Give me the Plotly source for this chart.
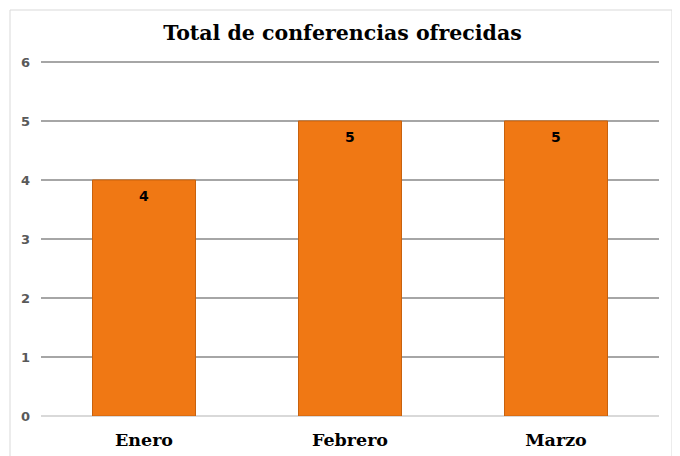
import plotly.graph_objects as go

categories = ["Enero", "Febrero", "Marzo"]
values = [4, 5, 5]
y_ticks = [0, 1, 2, 3, 4, 5, 6]
title_text = "Total de conferencias ofrecidas"

# the page body adds an 8px offset; layout values are in figure coordinates
OFF = 8
W, H = 680, 456
L, R, T, B = 41 - OFF, 21 + OFF, 51, 40 + OFF
pw, ph = W - L - R, H - T - B

def px_x(x):
    return (x - OFF - L) / pw

def px_y(y):
    return (H - B - (y - OFF)) / ph

fig = go.Figure()
fig.add_trace(go.Bar(
    x=categories, y=values,
    marker=dict(color="#f07814", line=dict(color="#c8620e", width=1)),
    width=0.5,
))

annotations = [
    dict(x=c, y=v, xref="x", yref="y", text=str(v), showarrow=False,
         yshift=-16, font=dict(family="DejaVu Sans", size=14, color="#000000", weight="bold"))
    for c, v in zip(categories, values)
]

fig.update_layout(
    width=W, height=H,
    margin=dict(l=L, r=R, t=T, b=B, autoexpand=False),
    paper_bgcolor="white", plot_bgcolor="white",
    showlegend=False,
    annotations=annotations,
    title=dict(text=title_text, x=(342.5 - OFF) / W, xanchor="center",
               y=1 - (33 - OFF) / H, yanchor="middle", automargin=False,
               font=dict(family="DejaVu Serif", size=20.5, color="#000000", weight="bold")),
    xaxis=dict(showgrid=False, showline=False, ticks="", automargin=False,
               ticklabelstandoff=11,
               tickfont=dict(family="DejaVu Serif", size=17.5, color="#000000", weight="bold")),
    yaxis=dict(range=[0, 6.05], tickvals=y_ticks, showline=False, automargin=False,
               gridcolor="#a6a6a6", gridwidth=2,
               zeroline=True, zerolinecolor="#d9d9d9", zerolinewidth=2,
               tickfont=dict(family="DejaVu Sans", size=13, color="#595959", weight="bold"),
               ticklabelstandoff=10),
    shapes=[dict(type="rect", xref="paper", yref="paper",
                 x0=px_x(10), x1=px_x(672), y0=px_y(470), y1=px_y(10),
                 line=dict(color="#d9d9d9", width=1), layer="below")],
)
fig.write_html("out.html")
